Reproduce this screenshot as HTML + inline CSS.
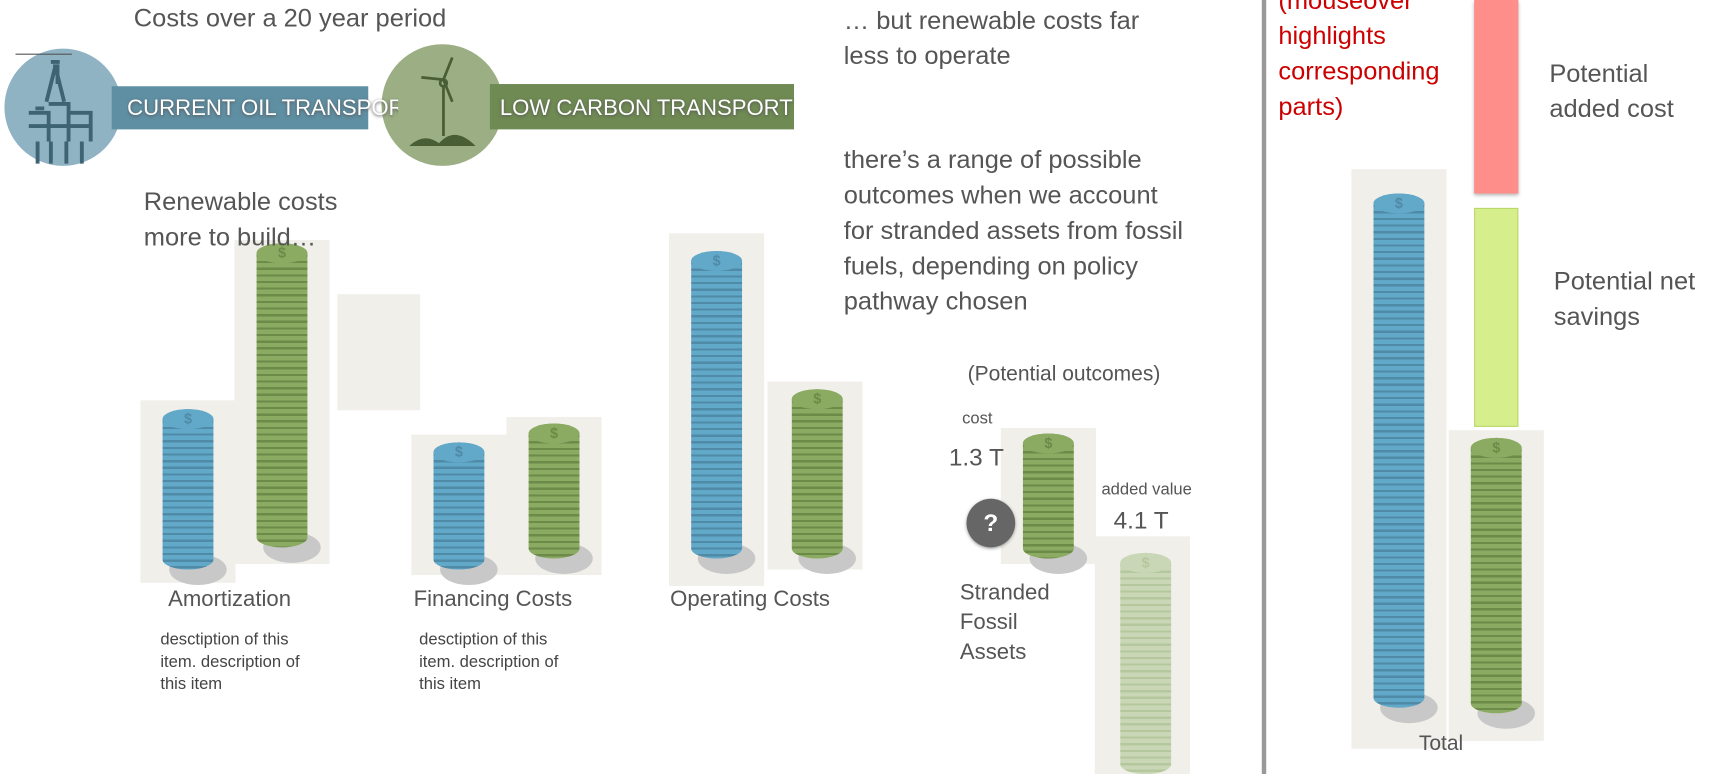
<!DOCTYPE html>
<html><head><meta charset="utf-8">
<style>
html,body{margin:0;padding:0;background:#fff;overflow:hidden;width:1734px;height:774px}
#root{position:absolute;left:0;top:0;width:1568px;height:700px;transform:scale(1.10587);transform-origin:0 0;font-family:"Liberation Sans",sans-serif;color:#555}
.t{position:absolute;white-space:nowrap;z-index:5}
.bg{position:absolute;background:#f0efea}
.stack{position:absolute;border-radius:23px/9px}
.top{position:absolute;left:0;top:0;width:100%;height:18px;border-radius:50%;font-size:13px;text-align:center;line-height:18px;font-weight:bold}
.shadow{position:absolute;border-radius:50%;background:#c8c8c8}
</style></head><body>
<div id="root">
<div class="t" style="left:121px;top:3px;font-size:23px">Costs over a 20 year period</div>

<div style="position:absolute;left:4px;top:44px;width:106px;height:106px;border-radius:50%;background:#8fb3c3">
<svg width="106" height="106" viewBox="0 0 106 106" style="position:absolute;left:0;top:0">
<line x1="10" y1="5" x2="61" y2="5" stroke="#555" stroke-width="1"/>
<g stroke="#3e6474" stroke-width="3.5" fill="none"><path d="M42 12h8M44 16h4v16M38 48l8-32 8 32M58 58h20v26M22 58h18v26M28 54h8M22 70h56M30 84v20M42 84v20M56 84v20M70 84v20M40 50h18v34"/></g>
</svg></div>
<div style="position:absolute;left:101px;top:78px;width:232px;height:39px;background:#5f8fa3"></div>
<div class="t" style="left:115px;top:87px;width:245px;overflow:hidden;font-size:20px;color:#fff;text-shadow:0 1px 3px #555">CURRENT OIL TRANSPORT</div>

<div style="position:absolute;left:345px;top:40px;width:110px;height:110px;border-radius:50%;background:#9caf84">
<svg width="110" height="110" viewBox="0 0 110 110">
<g stroke="#4a5e36" stroke-width="2.5" fill="none"><path d="M56 32L64 12M56 32L36 30M56 32L64 52M56 38v45"/><circle cx="56" cy="35" r="3"/></g>
<path d="M25 92q15-14 30 0zM50 92q15-20 35 0z" fill="#4a5e36"/></svg></div>
<div style="position:absolute;left:443px;top:76px;width:275px;height:41px;background:#6f8a53"></div>
<div class="t" style="left:452px;top:87px;font-size:20px;color:#fff;text-shadow:0 1px 3px #555">LOW CARBON TRANSPORT</div>

<div class="t" style="left:130px;top:166px;font-size:23px;line-height:32px">Renewable costs<br>more to build…</div>
<div class="t" style="left:763px;top:2px;font-size:23px;line-height:32px">… but renewable costs far<br>less to operate</div>
<div class="t" style="left:763px;top:128px;font-size:23px;line-height:32px">there’s a range of possible<br>outcomes when we account<br>for stranded assets from fossil<br>fuels, depending on policy<br>pathway chosen</div>

<div class="bg" style="left:305px;top:266px;width:75px;height:105px"></div>
<div id="bars"></div>

<div class="t" style="left:152px;top:531px;font-size:20px">Amortization</div>
<div class="t" style="left:145px;top:569px;font-size:15px;line-height:20px;color:#444">desctiption of this<br>item. description of<br>this item</div>
<div class="t" style="left:374px;top:531px;font-size:20px">Financing Costs</div>
<div class="t" style="left:379px;top:569px;font-size:15px;line-height:20px;color:#444">desctiption of this<br>item. description of<br>this item</div>
<div class="t" style="left:606px;top:531px;font-size:20px">Operating Costs</div>

<div class="t" style="left:875px;top:328px;font-size:19px">(Potential outcomes)</div>
<div class="t" style="left:870px;top:370px;font-size:15px">cost</div>
<div class="t" style="left:858px;top:401px;font-size:22px">1.3 T</div>
<div class="t" style="left:996px;top:434px;font-size:15px">added value</div>
<div class="t" style="left:1007px;top:458px;font-size:22px">4.1 T</div>
<div style="position:absolute;left:874px;top:451px;width:44px;height:44px;border-radius:50%;background:#666;color:#fff;font-weight:bold;font-size:22px;text-align:center;line-height:44px;box-shadow:0 1px 3px #999">?</div>
<div class="t" style="left:868px;top:523px;font-size:20px;line-height:27px">Stranded<br>Fossil<br>Assets</div>

<div style="position:absolute;left:1141px;top:0;width:4px;height:700px;background:#999"></div>
<div class="t" style="left:1156px;top:-16px;font-size:23px;line-height:32px;color:#cc0000">(mouseover<br>highlights<br>corresponding<br>parts)</div>
<div style="position:absolute;left:1333px;top:0;width:40px;height:175px;background:#fd8e8a;box-shadow:0 2px 3px #bbb"></div>
<div style="position:absolute;left:1333px;top:188px;width:38px;height:196px;background:#d6ef8c;border:1px solid #b8d86a"></div>
<div class="t" style="left:1401px;top:50px;font-size:23px;line-height:32px">Potential<br>added cost</div>
<div class="t" style="left:1405px;top:238px;font-size:23px;line-height:32px">Potential net<br>savings</div>
<div class="t" style="left:1283px;top:662px;font-size:19px">Total</div>
</div>
<script>
// values in trillions (approx) for each stack
const categories = ['amortization','amortization','financing','financing','operating','operating','stranded-cost','stranded-added','total','total'];
const series = ['oil','lowcarbon','oil','lowcarbon','oil','lowcarbon','lowcarbon','faded','oil','lowcarbon'];
const values = [1.45, 2.75, 1.15, 1.22, 2.78, 1.53, 1.13, 2.0, 4.65, 2.49];
const scale = 100; // px per trillion
const layout = [ // [stackLeft, baselineY, bgLeft, bgTop, bgBottom]
 [147,515,127,362,527],[232,495,212,217,510],[392,515,372,393,520],[478,505,458,377,520],
 [625,505,605,211,530],[716,505,694,345,515],[925,505,905,387,510],[1013,700,990,485,700],
 [1242,640,1222,153,677],[1330,645,1310,389,670]];
const colors = {oil:['#62a8c9','#4f8aa6'],lowcarbon:['#8bab62','#6c8a48'],faded:['#c9d7b6','#b5c79c']};
const root = document.getElementById('bars');
values.forEach((v,i)=>{
  const L = layout[i];
  const bg = document.createElement('div');
  bg.className='bg';
  
  
  bg.style.cssText=`left:${L[2]}px;top:${L[3]}px;width:86px;height:${L[4]-L[3]}px`;
  root.appendChild(bg);
  const h = v*scale, c = colors[series[i]];
  if(series[i]!=='faded'){
    const sh=document.createElement('div');
    sh.className='shadow';
    
    
    sh.style.cssText=`left:${L[0]+6}px;top:${L[1]-14}px;width:52px;height:28px`;
    root.appendChild(sh);
  }
  const s=document.createElement('div');
  s.className='stack';
  
  
  s.style.cssText=`left:${L[0]}px;top:${L[1]-h}px;width:46px;height:${h}px;background:repeating-linear-gradient(to bottom,${c[0]} 0 4px,${c[1]} 4px 6px)`;
  const t=document.createElement('div');
  t.className='top';
  
  
  t.style.background=c[0]; t.style.color=c[1];
  t.textContent='$';
  s.appendChild(t);
  root.appendChild(s);
});
</script>
</body></html>
